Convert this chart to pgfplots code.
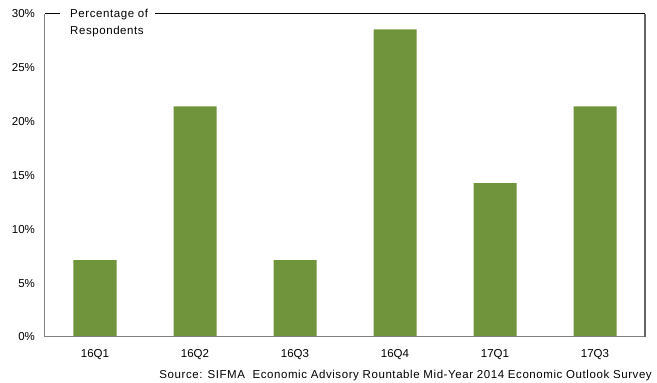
\documentclass[border=0pt]{standalone}
\usepackage{pgfplots}
\pgfplotsset{compat=1.18}
\usepackage{fontspec}
\setmainfont{Liberation Sans}
\definecolor{bargreen}{RGB}{112,148,60}
\definecolor{framegray}{RGB}{128,128,128}
\begin{document}
\begin{tikzpicture}[x=1pt,y=1pt]
\fontsize{11.5}{14}\selectfont
\path[use as bounding box] (0,0) rectangle (657,383);
\begin{axis}[
  at={(45pt,46pt)}, anchor=south west,
  scale only axis, width=600pt, height=323pt,
  xmin=-0.5, xmax=5.5, ymin=0, ymax=30,
  axis line style={draw=none},
  xtick={0,1,2,3,4,5},
  xticklabels={16Q1,16Q2,16Q3,16Q4,17Q1,17Q3},
  ytick={0,5,10,15,20,25,30},
  yticklabel={\pgfmathprintnumber{\tick}\%},
  /pgf/number format/assume math mode=true,
  tick style={draw=none},
  ticklabel style={font=\fontsize{11.5}{14}\selectfont},
  xticklabel style={yshift=-4pt},
  yticklabel style={xshift=-6pt},
  ybar, bar width=43pt,
  clip=false,
]
\addplot[fill=bargreen, draw=none] coordinates {
  (0,7.14) (1,21.43) (2,7.14) (3,28.57) (4,14.29) (5,21.43)
};
% frame: grey sides and bottom, black top broken by the caption
\draw[framegray, line width=1pt] (rel axis cs:0,1) -- (rel axis cs:0,0) -- (rel axis cs:1,0);
\draw[black!60, line width=1.5pt] (rel axis cs:1,0) -- (rel axis cs:1,1);
\draw[black, line width=1pt] (rel axis cs:0,1) -- ([xshift=15pt]rel axis cs:0,1);
\draw[black, line width=1pt] ([xshift=110pt]rel axis cs:0,1) -- (rel axis cs:1,1);
\node[anchor=north west, inner sep=0pt, align=left,
      font=\fontsize{11.5}{16.5}\selectfont\addfontfeature{LetterSpace=5}]
  at ([xshift=25pt,yshift=5pt]rel axis cs:0,1) {Percentage of\\Respondents};
\end{axis}
\node[anchor=base east, inner sep=0pt,
      font=\fontsize{11.5}{14}\selectfont\addfontfeature{LetterSpace=5}] at (652,4)
  {Source: SIFMA\ \ Economic Advisory Rountable Mid-Year 2014 Economic Outlook Survey};
\end{tikzpicture}
\end{document}
